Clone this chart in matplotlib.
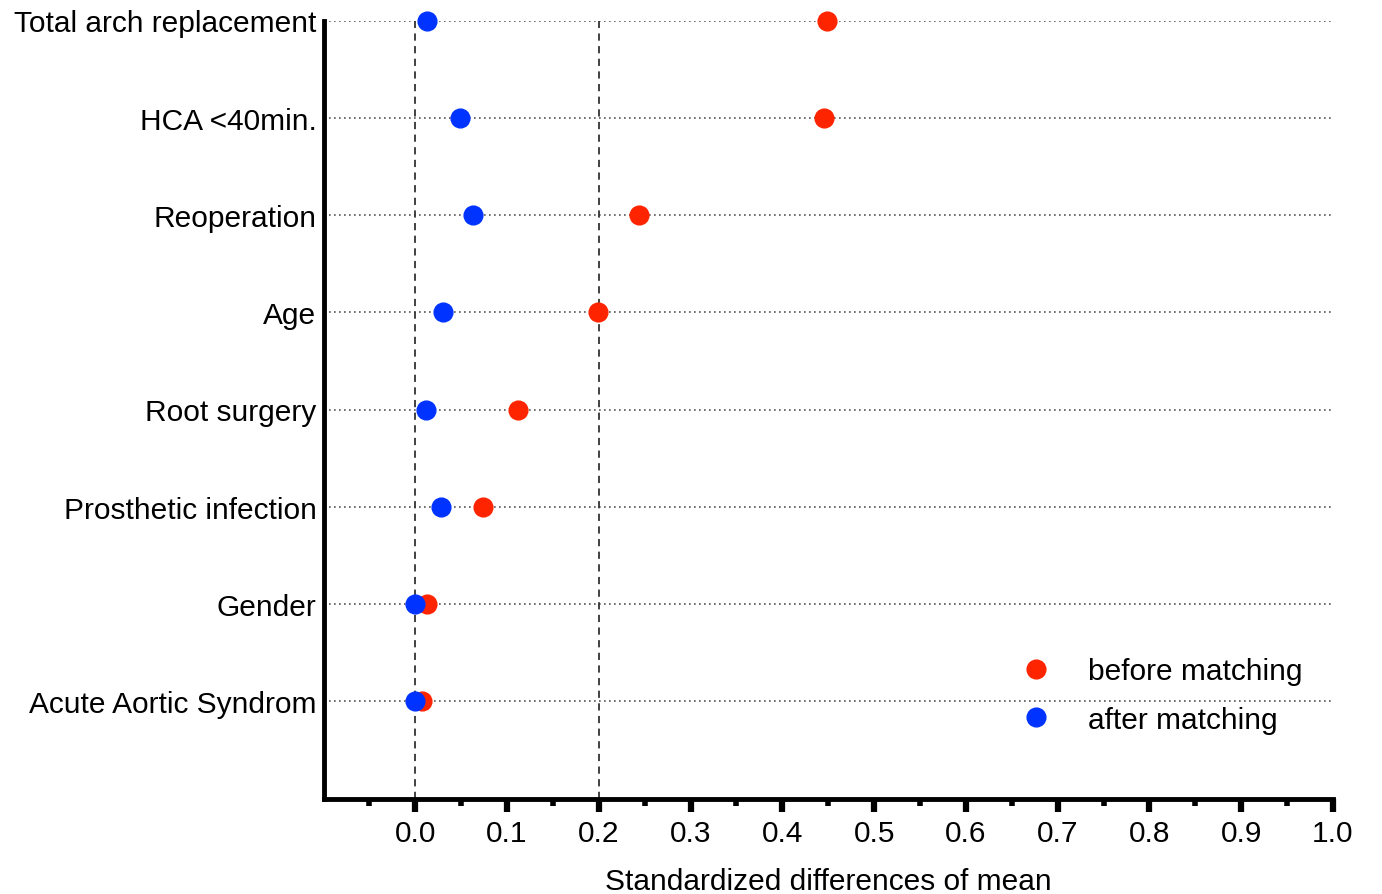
import matplotlib
matplotlib.use("Agg")
import matplotlib.pyplot as plt
from matplotlib.ticker import MultipleLocator

plt.rcParams['font.family'] = ['Liberation Sans', 'DejaVu Sans']

# covariates, top row first
labels = ["Total arch replacement", "HCA <40min.", "Reoperation", "Age",
          "Root surgery", "Prosthetic infection", "Gender", "Acute Aortic Syndrom"]
before = [0.449, 0.445, 0.244, 0.199, 0.112, 0.074, 0.013, 0.007]
after = [0.013, 0.049, 0.063, 0.030, 0.012, 0.028, 0.000, 0.000]
xticks = [0.0, 0.1, 0.2, 0.3, 0.4, 0.5, 0.6, 0.7, 0.8, 0.9, 1.0]

RED = '#ff2400'
BLUE = '#0033ff'
FS = 21.5

fig = plt.figure(figsize=(13.82, 8.95), dpi=100)
ax = fig.add_axes([323.5 / 1382, (895 - 799.5) / 895, (1333 - 323.5) / 1382, (799.5 - 21.5) / 895])

n = len(labels)
ypos = [n - i for i in range(n)]

# grid lines per row and reference lines
ax.hlines(ypos, -0.1, 1.0, colors='#555555', linestyles=(0, (1, 2)), lw=1.2, zorder=1)
for xv in (0.0, 0.2):
    ax.axvline(xv, color='#333333', ls=(0, (4, 3)), lw=1.3, zorder=1)

ax.plot(before, ypos, 'o', color=RED, ms=13.5, ls='none', clip_on=False, zorder=3, label='before matching')
ax.plot(after, ypos, 'o', color=BLUE, ms=13.5, ls='none', clip_on=False, zorder=4, label='after matching')

ax.set_xlim(-0.1, 1.0)
ax.set_ylim(0, n)
ax.set_yticks(ypos)
ax.set_yticklabels(labels, fontsize=FS)
ax.tick_params(axis='y', length=0, pad=5)

ax.set_xticks(xticks)
ax.set_xticklabels([f"{v:.1f}" for v in xticks], fontsize=FS)
ax.xaxis.set_minor_locator(MultipleLocator(0.1, offset=0.05))
ax.tick_params(axis='x', which='major', length=9, width=4.5, direction='out', pad=6)
ax.tick_params(axis='x', which='minor', length=5, width=4, direction='out')
ax.set_xlabel("Standardized differences of mean", fontsize=FS, labelpad=14)

for side in ('top', 'right'):
    ax.spines[side].set_visible(False)
for side in ('left', 'bottom'):
    ax.spines[side].set_linewidth(3.5)
ax.spines['left'].set_bounds(0, n)

ax.legend(loc='center left', bbox_to_anchor=(1021 / 1382, (895 - 696.5) / 895),
          bbox_transform=fig.transFigure, frameon=False, fontsize=FS,
          handlelength=1.0, handletextpad=1.23, labelspacing=0.68,
          borderpad=0, borderaxespad=0, markerscale=1.0)

fig.savefig('out.png', dpi=100)
